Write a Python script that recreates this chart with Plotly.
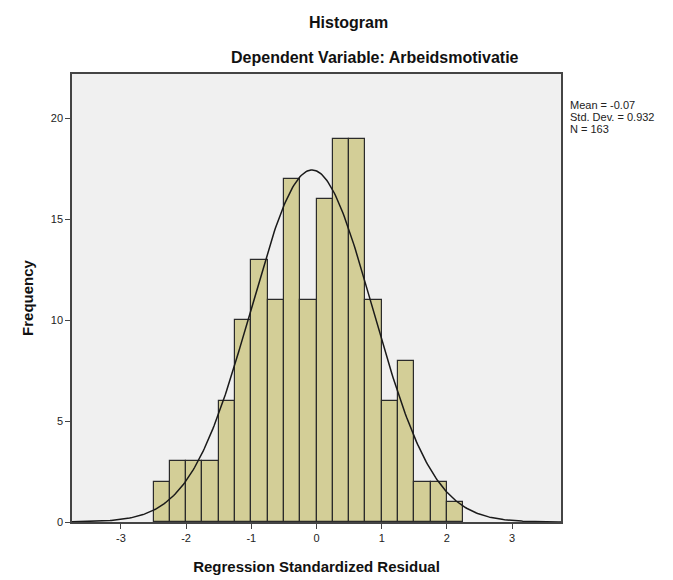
import numpy as np
import plotly.graph_objects as go

bin_left_edges = [-2.5, -2.25, -2.0, -1.75, -1.5, -1.25, -1.0, -0.75, -0.5, -0.25,
                  0.0, 0.25, 0.5, 0.75, 1.0, 1.25, 1.5, 1.75, 2.0]
frequencies = [2, 3, 3, 3, 6, 10, 13, 11, 17, 11, 16, 19, 19, 11, 6, 8, 2, 2, 1]
bin_width = 0.25
mean_val = -0.07
std_val = 0.932
n_val = 163
x_ticks = [-3, -2, -1, 0, 1, 2, 3]
x_tick_labels = ["-3", "-2", "-1", "0", "1", "2", "3"]
y_ticks = [0, 5, 10, 15, 20]
stats_lines = [f"Mean = {mean_val}", f"Std. Dev. = {std_val}", f"N = {n_val}"]

centers = [e + bin_width / 2 for e in bin_left_edges]

xs = np.linspace(-3.75, 3.75, 400)
ys = n_val * bin_width / (std_val * np.sqrt(2 * np.pi)) * np.exp(-0.5 * ((xs - mean_val) / std_val) ** 2)

fig = go.Figure()
fig.add_trace(go.Bar(
    x=centers, y=frequencies, width=[bin_width] * len(centers),
    marker=dict(color="#d3ce97", line=dict(color="#2b2b2b", width=1.2)),
    showlegend=False, hoverinfo="x+y"))
fig.add_trace(go.Scatter(
    x=xs, y=ys, mode="lines", line=dict(color="#1a1a1a", width=1.5),
    showlegend=False, hoverinfo="skip"))

font_family = "Liberation Sans, Arial, sans-serif"

annotations = [
    dict(text="<b>Histogram</b>", x=0.566, y=1.116, xref="paper", yref="paper",
         showarrow=False, font=dict(size=16, color="#111"), xanchor="center", yanchor="middle"),
    dict(text="<b>Dependent Variable: Arbeidsmotivatie</b>", x=0.62, y=1.036,
         xref="paper", yref="paper", showarrow=False,
         font=dict(size=16, color="#111"), xanchor="center", yanchor="middle"),
]
for i, line in enumerate(stats_lines):
    annotations.append(dict(text=line, x=1.014, y=0.931 - i * 0.0268, xref="paper", yref="paper",
                            showarrow=False, align="left", xanchor="left", yanchor="middle",
                            font=dict(size=11, color="#222")))

fig.update_layout(
    width=665, height=572,
    margin=dict(l=64, r=112, t=66, b=58),
    paper_bgcolor="white", plot_bgcolor="#f0f0f0",
    font=dict(family=font_family, color="#222222", size=11),
    bargap=0,
    xaxis=dict(range=[-3.75, 3.75], tickvals=x_ticks, ticktext=x_tick_labels,
               ticks="outside", ticklen=5, automargin=False,
               tickcolor="#444", showgrid=False, zeroline=False, showline=True,
               linecolor="#444", linewidth=1.5, mirror=True,
               tickfont=dict(size=11, color="#222"),
               title=dict(text="<b>Regression Standardized Residual</b>",
                          font=dict(size=15, color="#111"), standoff=19)),
    yaxis=dict(range=[0, 22.2], tickvals=y_ticks, ticks="outside", ticklen=5,
               automargin=False,
               tickcolor="#444", showgrid=False, zeroline=False, showline=True,
               linecolor="#444", linewidth=1.5, mirror=True,
               tickfont=dict(size=11, color="#222"),
               title=dict(text="<b>Frequency</b>", font=dict(size=15, color="#111"),
                          standoff=14)),
    annotations=annotations,
)

fig.write_html("out.html")
